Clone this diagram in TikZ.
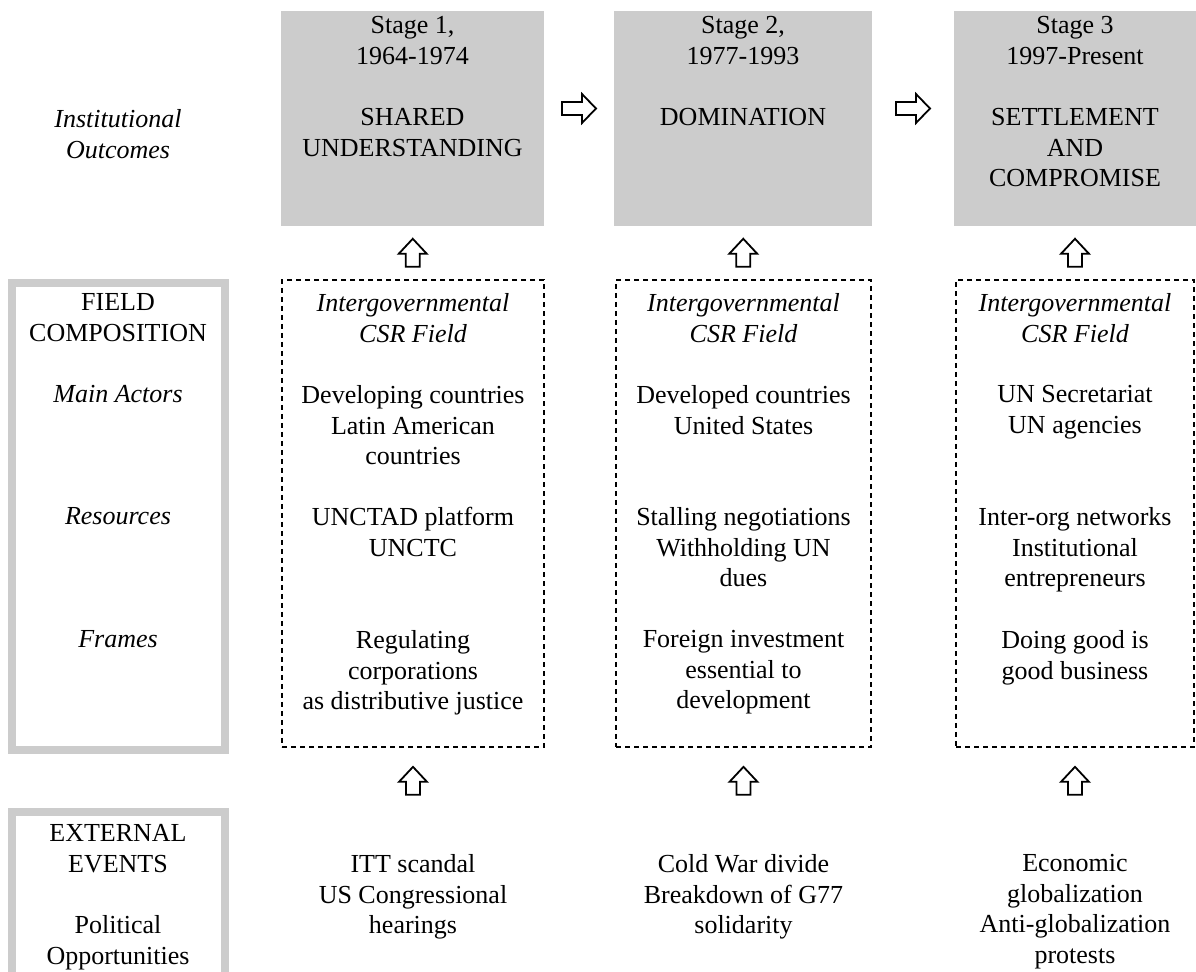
\documentclass[tikz,border=0pt]{standalone}
\usepackage{fontspec}
\setmainfont{Liberation Serif}
\usetikzlibrary{calc,fit}
\definecolor{panelgray}{RGB}{204,204,204}

\begin{document}
\begin{tikzpicture}[x=0.5pt,y=-0.5pt,
  stagebox/.style={fill=panelgray,inner sep=0},
  fieldbox/.style={draw,line width=0.85pt,dash pattern=on 2.5pt off 2pt,inner sep=0},
  framebox/.style={draw=panelgray,line width=4.25pt,inner sep=0},
  txt/.style={align=center,inner sep=0,anchor=north,font=\fontsize{13}{15.3}\selectfont},
  lbl/.style={txt,font=\fontsize{13}{15.3}\selectfont\itshape},
  arrowline/.style={line width=0.9pt,fill=white,line join=miter},
  uparr/.pic={\draw[arrowline] (-7,14) -- (-7,1) -- (-14,1) -- (0,-14) -- (14,1) -- (7,1) -- (7,14) -- cycle;},
  rightarr/.pic={\draw[arrowline] (-17,-6.5) -- (3,-6.5) -- (3,-14.5) -- (17,0) -- (3,14.5) -- (3,6.5) -- (-17,6.5) -- cycle;}]
\useasboundingbox (0,0) rectangle (1196,972);
\fill[white] (0,0) rectangle (1196,972);

\coordinate (lblcol) at (118,0);
\coordinate (rowstage) at (0,16);
\coordinate (rowout) at (0,109);
\coordinate (rowtitle) at (0,293);
\coordinate (rowact) at (0,385);
\coordinate (rowres) at (0,507);
\coordinate (rowfrm) at (0,630);
\coordinate (rowext) at (0,824);
\coordinate (rowevt) at (0,854);
\coordinate (rowpol) at (0,915);

% institutional outcomes
\node[stagebox,fit={(281,11) (544,226)}] (out1) {};
\node[stagebox,fit={(614,11) (872,226)}] (out2) {};
\node[stagebox,fit={(954,11) (1196,226)}] (out3) {};
\node[lbl] (outlbl) at (lblcol |- rowout) {Institutional\\Outcomes};
\node[txt] (stg1) at (out1.north |- rowstage) {Stage 1,\\1964-1974\\[15.3pt]SHARED\\UNDERSTANDING};
\node[txt] (stg2) at (out2.north |- rowstage) {Stage 2,\\1977-1993\\[15.3pt]DOMINATION};
\node[txt] (stg3) at (out3.north |- rowstage) {Stage 3\\1997-Present\\[15.3pt]SETTLEMENT\\AND\\COMPROMISE};
\pic at ($(out1.east)!0.5!(out2.west)+(0,-10)$) {rightarr};
\pic at ($(out2.east)!0.5!(out3.west)+(0,-10)$) {rightarr};

% field composition
\node[framebox,fit={(12,283) (225,750)}] (fieldframe) {};
\node[fieldbox,fit={(282,280) (544,747)}] (csr1) {};
\node[fieldbox,fit={(616,280) (871,747)}] (csr2) {};
\node[fieldbox,fit={(956,280) (1194,747)}] (csr3) {};
\node[txt] (fieldlbl) at (lblcol |- rowtitle) {FIELD\\COMPOSITION};
\node[lbl] (actlbl) at (lblcol |- rowact) {Main Actors};
\node[lbl] (reslbl) at (lblcol |- rowres) {Resources};
\node[lbl] (frmlbl) at (lblcol |- rowfrm) {Frames};
\foreach \i in {1,2,3} {
  \node[lbl] (title\i) at (csr\i.north |- rowtitle) {Intergovernmental\\CSR Field};
}
\node[txt] (act1) at (csr1.north |- rowact) {Developing countries\\Latin American\\countries};
\node[txt] (act2) at (csr2.north |- rowact) {Developed countries\\United States};
\node[txt] (act3) at (csr3.north |- rowact) {UN Secretariat\\UN agencies};
\node[txt] (res1) at (csr1.north |- rowres) {UNCTAD platform\\UNCTC};
\node[txt] (res2) at (csr2.north |- rowres) {Stalling negotiations\\Withholding UN\\dues};
\node[txt] (res3) at (csr3.north |- rowres) {Inter-org networks\\Institutional\\entrepreneurs};
\node[txt] (frm1) at (csr1.north |- rowfrm) {Regulating\\corporations\\as distributive justice};
\node[txt] (frm2) at (csr2.north |- rowfrm) {Foreign investment\\essential to\\development};
\node[txt] (frm3) at (csr3.north |- rowfrm) {Doing good is\\good business};

% external events
\draw[panelgray,line width=4.25pt] (12,972) |- (225,812) -- (225,972);
\node[txt] (extlbl) at (lblcol |- rowext) {EXTERNAL\\EVENTS};
\node[txt] (pollbl) at (lblcol |- rowpol) {Political\\Opportunities};
\node[txt] (evt1) at (csr1.north |- rowevt) {ITT scandal\\US Congressional\\hearings};
\node[txt] (evt2) at (csr2.north |- rowevt) {Cold War divide\\Breakdown of G77\\solidarity};
\node[txt] (evt3) at (csr3.north |- rowevt) {Economic\\globalization\\Anti-globalization\\protests};

\foreach \i in {1,2,3} {
  \pic at ($(out\i.south)!0.5!(csr\i.north)$) {uparr};
  \pic at ($(csr\i.south)+(0,33)$) {uparr};
}
\end{tikzpicture}
\end{document}
